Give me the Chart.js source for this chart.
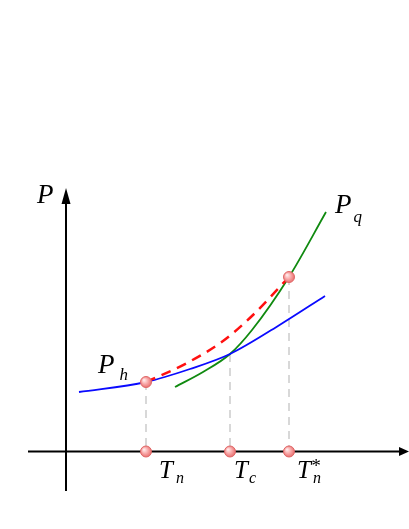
<!DOCTYPE html>
<html>
<head>
<meta charset="utf-8">
<script src="https://cdn.jsdelivr.net/npm/chart.js@4/dist/chart.umd.min.js"></script>
<style>
html,body{margin:0;padding:0;background:#fff;}
#c{display:block;}
</style>
</head>
<body>
<canvas id="c" width="409" height="529"></canvas>
<script>
// Schematic data (T along x, P along y)
const phT = [1.3, 8.0, 12.4, 16.4, 21.2, 25.9];
const phP = [5.95, 6.95, 8.25, 9.75, 12.55, 15.55];
const pqT = [10.9, 13.7, 16.4, 18.6, 22.3, 26.0];
const pqP = [6.45, 7.95, 9.75, 12.15, 17.45, 23.95];
const pathT = [8.0, 12.1, 15.7, 18.7, 22.3];
const pathP = [6.95, 8.85, 11.05, 13.65, 17.45];
// marked temperatures: Tn, Tc, Tn*
const markT = [8.0, 16.4, 22.3];
const markP = [6.95, 9.75, 17.45];
const markLabels = ['n', 'c', 'n'];

const zip = (xs, ys) => xs.map((x, i) => ({x: x, y: ys[i]}));

const drops = markT.map((t, i) => ({
  type: 'line',
  data: [{x: t, y: markP[i]}, {x: t, y: 0}],
  showLine: true,
  borderColor: '#cccccc',
  borderWidth: 1.5,
  borderDash: [8, 6],
  pointRadius: 0,
  order: 3
}));

function pointFill(ctx) {
  const chart = ctx.chart;
  const fallback = '#f4a0a0';
  if (!ctx.parsed || !chart.scales || !chart.scales.x || !chart.scales.y) return fallback;
  const px = chart.scales.x.getPixelForValue(ctx.parsed.x);
  const py = chart.scales.y.getPixelForValue(ctx.parsed.y);
  if (!isFinite(px) || !isFinite(py)) return fallback;
  const g = chart.ctx.createRadialGradient(px - 2, py - 2, 0.5, px, py, 6.5);
  g.addColorStop(0, '#ffe8e8');
  g.addColorStop(0.45, '#f8a8a8');
  g.addColorStop(1, '#e46060');
  return g;
}

const markerPts = [
  {x: markT[0], y: markP[0]},
  {x: markT[2], y: markP[2]},
  {x: markT[0], y: 0},
  {x: markT[1], y: 0},
  {x: markT[2], y: 0}
];

const axesPlugin = {
  id: 'axes',
  beforeDatasetsDraw(chart) {
    const c = chart.ctx, xs = chart.scales.x, ys = chart.scales.y;
    const x0 = xs.getPixelForValue(0), y0 = ys.getPixelForValue(0);
    c.save();
    c.strokeStyle = '#000';
    c.fillStyle = '#000';
    c.lineWidth = 2;
    const xl = xs.getPixelForValue(-3.8), xr = xs.getPixelForValue(34.3);
    c.beginPath(); c.moveTo(xl, y0); c.lineTo(xr - 6, y0); c.stroke();
    c.beginPath(); c.moveTo(xr, y0); c.lineTo(xr - 10, y0 - 4.5); c.lineTo(xr - 10, y0 + 4.5); c.closePath(); c.fill();
    const yb = ys.getPixelForValue(-3.95), yt = ys.getPixelForValue(26.35);
    c.beginPath(); c.moveTo(x0, yb); c.lineTo(x0, yt + 8); c.stroke();
    c.beginPath(); c.moveTo(x0, yt); c.lineTo(x0 - 4.5, yt + 16); c.lineTo(x0 + 4.5, yt + 16); c.closePath(); c.fill();
    c.restore();
  },
  afterDatasetsDraw(chart) {
    const c = chart.ctx, xs = chart.scales.x, ys = chart.scales.y;
    c.save();
    c.fillStyle = '#000';
    c.textAlign = 'left';
    c.textBaseline = 'alphabetic';
    const put = (txt, x, y, size) => {
      c.font = 'italic ' + size + 'px "Liberation Serif", "DejaVu Serif", serif';
      c.fillText(txt, xs.getPixelForValue(x), ys.getPixelForValue(y));
    };
    put('P', -2.9, 24.85, 27);
    put('P', 3.2, 7.85, 27); put('h', 5.35, 7.15, 17);
    put('P', 26.9, 23.85, 27); put('q', 28.75, 23.0, 17);
    const tx = [9.3, 16.8, 23.1];
    const sx = [11.0, 18.3, 24.7];
    markLabels.forEach((s, i) => {
      put('T', tx[i], -2.65, 25);
      put(s, sx[i], -3.15, 16);
    });
    put('*', 24.45, -2.0, 19);
    c.restore();
  }
};

new Chart(document.getElementById('c'), {
  type: 'scatter',
  data: {
    datasets: [
      {
        data: markerPts,
        pointRadius: 5.5,
        pointBorderWidth: 1,
        pointBorderColor: '#e06868',
        pointBackgroundColor: pointFill,
        showLine: false,
        order: 0
      },
      {
        data: zip(pathT, pathP),
        showLine: true,
        borderColor: '#ff1010',
        borderWidth: 2.5,
        borderDash: [10, 7],
        pointRadius: 0,
        cubicInterpolationMode: 'monotone',
        order: 1
      },
      {
        data: zip(phT, phP),
        showLine: true,
        borderColor: '#0a0aff',
        borderWidth: 1.8,
        pointRadius: 0,
        cubicInterpolationMode: 'monotone',
        order: 2
      },
      {
        data: zip(pqT, pqP),
        showLine: true,
        borderColor: '#108a10',
        borderWidth: 1.8,
        pointRadius: 0,
        cubicInterpolationMode: 'monotone',
        order: 2
      }
    ].concat(drops)
  },
  options: {
    responsive: false,
    animation: false,
    devicePixelRatio: 1,
    layout: {padding: 0, autoPadding: false},
    plugins: {legend: {display: false}, tooltip: {enabled: false}},
    scales: {
      x: {type: 'linear', display: false, min: -6.6, max: 34.3},
      y: {type: 'linear', display: false, min: -7.75, max: 45.15}
    }
  },
  plugins: [axesPlugin]
});
</script>
</body>
</html>
